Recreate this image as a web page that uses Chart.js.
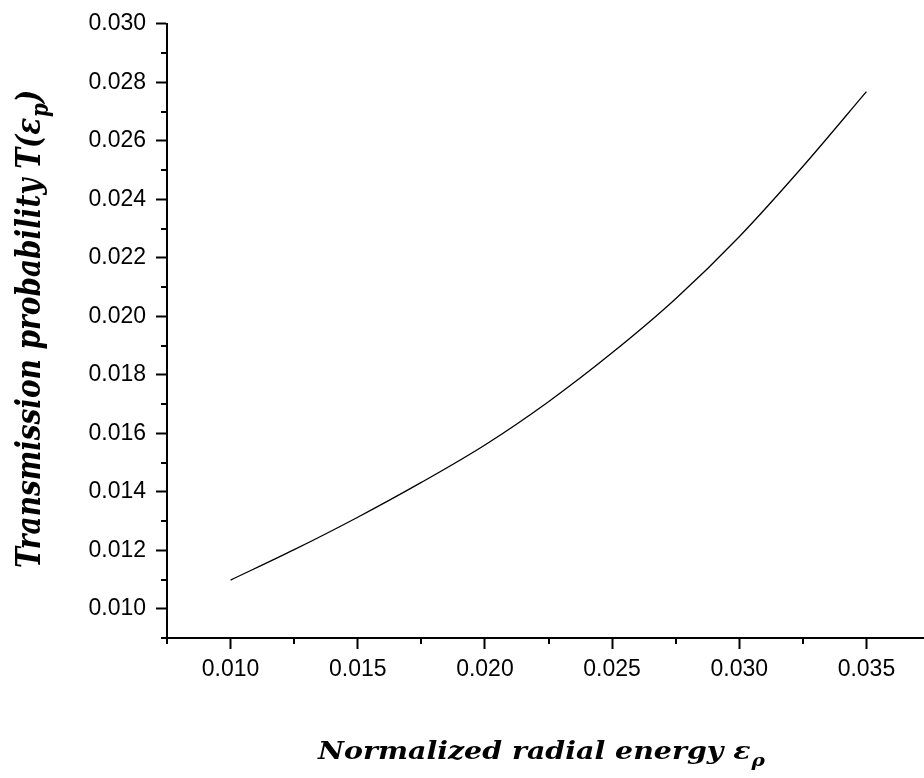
<!DOCTYPE html>
<html><head><meta charset="utf-8">
<script src="https://cdn.jsdelivr.net/npm/chart.js@4/dist/chart.umd.min.js"></script>
<style>html,body{margin:0;padding:0;background:#fff;overflow:hidden}#wrap{width:924px;height:778px;overflow:hidden;position:relative}canvas{display:block}</style>
</head><body><div id="wrap"><canvas id="c" width="940" height="778"></canvas></div>
<script>
// Data
const energy = [0.010, 0.0125, 0.015, 0.0175, 0.020, 0.0225, 0.025, 0.0275, 0.030, 0.0325, 0.035];
const transmission = [0.01098, 0.01202, 0.01313, 0.01432, 0.01560, 0.01708, 0.01875, 0.02060, 0.02272, 0.02512, 0.02768];
const xMajorTicks = [0.010, 0.015, 0.020, 0.025, 0.030, 0.035];
const xMinorTicks = [0.0075, 0.0125, 0.0175, 0.0225, 0.0275, 0.0325, 0.0375];
const yMajorTicks = [0.010, 0.012, 0.014, 0.016, 0.018, 0.020, 0.022, 0.024, 0.026, 0.028, 0.030];
const yMinorTicks = [0.009, 0.011, 0.013, 0.015, 0.017, 0.019, 0.021, 0.023, 0.025, 0.027, 0.029];
const xTitleMain = 'Normalized radial energy ε';
const xTitleSub = 'ρ';
const yTitleMain = 'Transmission probability T(ε';
const yTitleSub = 'p';
const yTitleTail = ')';

const points = energy.map((x, i) => ({x: x, y: transmission[i]}));

function drawTitle(ctx, main, sub, tail, size, targetLen, subDrop) {
  const f = 'bold italic ' + size + 'px "DejaVu Serif"';
  const fs = 'bold italic ' + Math.round(size * 0.7) + 'px "DejaVu Serif"';
  ctx.font = f;
  const a = ctx.measureText(main).width;
  const c = tail ? ctx.measureText(tail).width : 0;
  ctx.font = fs;
  const b = ctx.measureText(sub).width;
  const total = a + b + c + 1;
  const k = targetLen / total;
  ctx.scale(k, 1);
  const s = -total / 2;
  ctx.font = f;
  ctx.fillText(main, s, 0);
  ctx.font = fs;
  ctx.fillText(sub, s + a + 1, subDrop);
  if (tail) { ctx.font = f; ctx.fillText(tail, s + a + b + 1, 0); }
}

const extrasPlugin = {
  id: 'extras',
  afterDraw(chart) {
    const ctx = chart.ctx;
    const xs = chart.scales.x, ys = chart.scales.y;
    const ca = chart.chartArea;
    ctx.save();
    ctx.strokeStyle = '#000';
    ctx.lineWidth = 2;
    ctx.beginPath();
    yMinorTicks.forEach(v => {
      const y = Math.round(ys.getPixelForValue(v));
      ctx.moveTo(ca.left - 6, y); ctx.lineTo(ca.left, y);
    });
    xMinorTicks.forEach(v => {
      const x = Math.round(xs.getPixelForValue(v));
      ctx.moveTo(x, ca.bottom); ctx.lineTo(x, ca.bottom + 6);
    });
    ctx.stroke();

    ctx.fillStyle = '#000';
    ctx.textBaseline = 'alphabetic';
    ctx.textAlign = 'left';

    // x title
    ctx.save();
    ctx.translate((ca.left + ca.right) / 2 - 7, 759);
    drawTitle(ctx, xTitleMain, xTitleSub, '', 24, 447, 7);
    ctx.restore();

    // y title (rotated)
    ctx.save();
    ctx.translate(40, (ca.top + ca.bottom) / 2 - 2);
    ctx.rotate(-Math.PI / 2);
    drawTitle(ctx, yTitleMain, yTitleSub, yTitleTail, 34, 478, 8);
    ctx.restore();
    ctx.restore();
  }
};

new Chart(document.getElementById('c'), {
  type: 'line',
  data: {
    datasets: [{
      data: points,
      borderColor: '#000',
      borderWidth: 1.3,
      pointRadius: 0,
      fill: false,
      cubicInterpolationMode: 'monotone'
    }]
  },
  options: {
    responsive: false,
    animation: false,
    devicePixelRatio: 1,
    layout: {padding: {top: 21, right: 10, left: 0, bottom: 0}},
    plugins: {legend: {display: false}, tooltip: {enabled: false}},
    scales: {
      x: {
        type: 'linear',
        min: 0.0075, max: 0.0375,
        afterBuildTicks: s => { s.ticks = xMajorTicks.map(v => ({value: v})); },
        afterFit: s => { s.height = 140; },
        grid: {drawOnChartArea: false, drawTicks: true, tickLength: 11, tickWidth: 2, tickColor: '#000'},
        border: {display: true, width: 2, color: '#000'},
        ticks: {
          color: '#000', padding: 7, maxRotation: 0, autoSkip: false,
          font: {family: '"Liberation Sans", Arial, sans-serif', size: 23},
          callback: v => v.toFixed(3)
        }
      },
      y: {
        type: 'linear',
        min: 0.009, max: 0.030,
        afterBuildTicks: s => { s.ticks = yMajorTicks.map(v => ({value: v})); },
        afterFit: s => { s.width = 167; },
        grid: {drawOnChartArea: false, drawTicks: true, tickLength: 11, tickWidth: 2, tickColor: '#000'},
        border: {display: true, width: 2, color: '#000'},
        ticks: {
          color: '#000', padding: 10, autoSkip: false,
          font: {family: '"Liberation Sans", Arial, sans-serif', size: 23},
          callback: v => v.toFixed(3)
        }
      }
    }
  },
  plugins: [extrasPlugin]
});
</script>
</body></html>
